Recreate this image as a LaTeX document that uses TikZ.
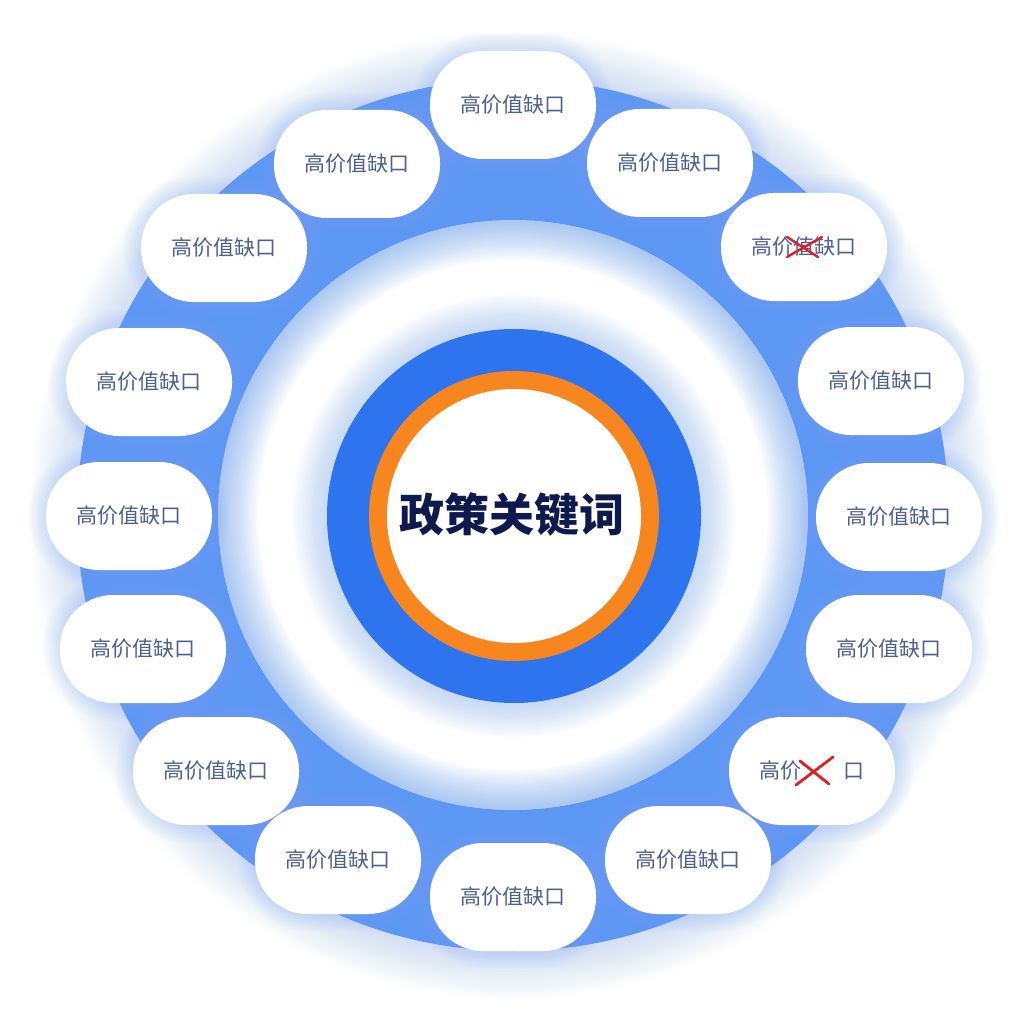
\documentclass[tikz,border=0pt]{standalone}
\usepackage{fontspec}
\newfontfamily\cjk{Noto Sans CJK SC}
\definecolor{ringblue}{HTML}{5B97F3}
\definecolor{coreblue}{HTML}{2D74EE}
\definecolor{orng}{HTML}{F7861F}
\definecolor{txtc}{HTML}{4F6090}
\definecolor{navy}{HTML}{0E1A4E}
\definecolor{glowc}{HTML}{8DB4F6}
\definecolor{xred}{HTML}{E11D2A}
\tikzset{
  pill/.style={fill=white, minimum width=166pt, minimum height=108pt, rounded corners=53pt, inner sep=0pt,
    font=\cjk\fontsize{21}{21}\selectfont, text=txtc},
  cross/.style={draw=xred, line width=2.4pt, line cap=round},
}
\begin{document}
\begin{tikzpicture}[x=1pt,y=-1pt]
\useasboundingbox (0,0) rectangle (1024,1024);
\fill[white] (0,0) rectangle (1024,1024);
\coordinate (O) at (513,515);
\coordinate (O2) at (514,516);
% outer glow of the ring
\foreach \k in {1,...,16} \fill[glowc, opacity=0.025] (O) circle ({436pt+3pt*\k});
\fill[ringblue] (O) circle (436pt);
% inner white disk with soft blue edge
\fill[white] (O) circle (295pt);
\foreach \k in {1,...,16} \fill[ringblue, opacity=0.04, even odd rule] (O) circle (295pt) (O) circle ({295pt-2.5pt*\k});
% halo of the core
\foreach \k in {1,...,14} \fill[coreblue!60!white, opacity=0.035] (O2) circle ({187pt+2.5pt*\k});
\fill[coreblue] (O2) circle (187pt);
\fill[orng] (O2) circle (145pt);
\fill[white] (O2) circle (127pt);
\node (core) at (512,515) {\cjk\bfseries\fontsize{45}{45}\selectfont\color{navy}政策关键词};
% pill positions
\coordinate (c1) at (513,105);
\coordinate (c2) at (357,164);
\coordinate (c3) at (670,163);
\coordinate (c4) at (224,248);
\coordinate (c5) at (804,247);
\coordinate (c6) at (149,382);
\coordinate (c7) at (881,381);
\coordinate (c8) at (129,516);
\coordinate (c9) at (899,517);
\coordinate (c10) at (143,649);
\coordinate (c11) at (889,649);
\coordinate (c12) at (216,771);
\coordinate (c13) at (812,771);
\coordinate (c14) at (338,860);
\coordinate (c15) at (688,860);
\coordinate (c16) at (513,897);
% pill glows
\foreach \i in {1,...,16}{
  \foreach \k in {1,...,9}{
    \fill[glowc, opacity=0.03, shift={(c\i)}, rounded corners={53pt+2pt*\k}]
      ({-83-2*\k},{-54-2*\k}) rectangle ({83+2*\k},{54+2*\k});
  }
}
% pills
\node[pill] (p1) at (c1) {高价值缺口};
\node[pill] (p2) at (c2) {高价值缺口};
\node[pill] (p3) at (c3) {高价值缺口};
\node[pill] (p4) at (c4) {高价值缺口};
\node[pill] (p5) at (c5) {高价值缺口};
\node[pill] (p6) at (c6) {高价值缺口};
\node[pill] (p7) at (c7) {高价值缺口};
\node[pill] (p8) at (c8) {高价值缺口};
\node[pill] (p9) at (c9) {高价值缺口};
\node[pill] (p10) at (c10) {高价值缺口};
\node[pill] (p11) at (c11) {高价值缺口};
\node[pill] (p12) at (c12) {高价值缺口};
\node[pill] (p13) at (c13) {高价\hspace{2em}口};
\node[pill] (p14) at (c14) {高价值缺口};
\node[pill] (p15) at (c15) {高价值缺口};
\node[pill] (p16) at (c16) {高价值缺口};
% red crosses
\draw[cross] (787,237) -- (818,257);
\draw[cross] (787,257) -- (822,237);
\draw[cross, line width=2.8pt] (800,761) -- (829,784);
\draw[cross, line width=2.8pt] (796,785) -- (833,757);
\end{tikzpicture}
\end{document}
